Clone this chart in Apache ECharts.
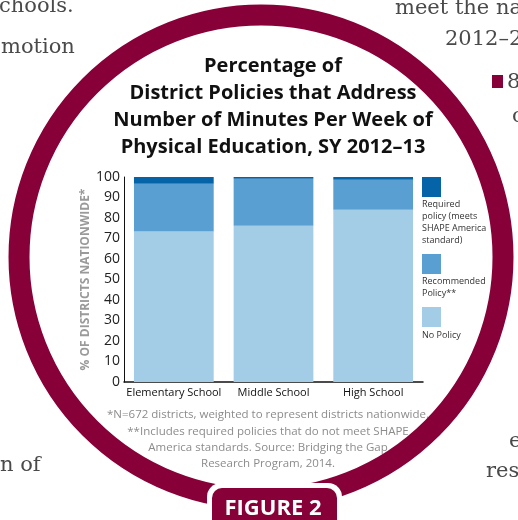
<!DOCTYPE html>
<html>
<head>
<meta charset="utf-8">
<script src="https://cdn.jsdelivr.net/npm/echarts@6/dist/echarts.min.js"></script>
<style>html,body{margin:0;padding:0;background:#fff;}#c{width:518px;height:520px;}</style>
</head>
<body>
<div id="c"></div>
<script>
const categories = ['Elementary School', 'Middle School', 'High School'];
const noPolicy = [73.4, 76.2, 84.0];
const recommended = [23.3, 23.0, 14.7];
const required = [3.3, 0.8, 1.3];
const yTicks = [0, 10, 20, 30, 40, 50, 60, 70, 80, 90, 100];
const seriesNames = ['Required policy (meets SHAPE America standard)', 'Recommended Policy**', 'No Policy'];
const colors = { required: '#0563a7', recommended: '#5a9fd2', noPolicy: '#a3cde6' };
const maroon = '#870038';
const sans = 'Open Sans';
const serif = 'DejaVu Serif';

const chart = echarts.init(document.getElementById('c'), null, { renderer: 'canvas' });

function legendBox(name, top) {
  return {
    data: [name], left: 422, top: top, orient: 'vertical', icon: 'rect',
    itemWidth: 19, itemHeight: 20, padding: 0, formatter: function () { return ''; },
    textStyle: { fontSize: 1 }, selectedMode: false
  };
}

const outerText = (text, x, y) => ({
  type: 'text', x: x, y: y, z: 1,
  style: { text: text, font: '300 21px "' + serif + '"', fill: '#4a4a4a', verticalAlign: 'middle', align: 'left' }
});

chart.setOption({
  animation: false,
  backgroundColor: '#fff',
  title: {
    text: 'Percentage of\nDistrict Policies that Address\nNumber of Minutes Per Week of\nPhysical Education, SY 2012–13',
    left: 268, top: 48, textAlign: 'center',
    textStyle: { fontFamily: sans, fontSize: 20, fontWeight: 'bold', lineHeight: 27, color: '#111' }
  },
  legend: [
    legendBox(seriesNames[0], 177),
    legendBox(seriesNames[1], 254),
    legendBox(seriesNames[2], 307)
  ],
  grid: { left: 124, right: 95, top: 177, bottom: 138 },
  xAxis: {
    type: 'category', data: categories,
    axisLine: { lineStyle: { color: '#111', width: 1.5 } },
    axisTick: { show: false },
    axisLabel: { interval: 0, fontFamily: sans, fontSize: 11, color: '#111', margin: 5 }
  },
  yAxis: {
    type: 'value', min: 0, max: 100, interval: 10,
    name: '% OF DISTRICTS NATIONWIDE*', nameLocation: 'middle', nameGap: 32, nameRotate: 90,
    nameMoveOverlap: false,
    nameTextStyle: { fontFamily: sans, fontSize: 12, fontWeight: 'bold', color: '#9a9a9a' },
    axisLine: { show: true, lineStyle: { color: '#111', width: 1 } },
    axisTick: { show: false },
    splitLine: { show: false },
    axisLabel: {
      fontFamily: sans, fontSize: 14, color: '#222', margin: 4,
      formatter: function (v) { return yTicks.indexOf(v) >= 0 ? String(v) : ''; }
    }
  },
  series: [
    { name: seriesNames[2], type: 'bar', stack: 'all', data: noPolicy, barCategoryGap: '20%', itemStyle: { color: colors.noPolicy } },
    { name: seriesNames[1], type: 'bar', stack: 'all', data: recommended, itemStyle: { color: colors.recommended } },
    { name: seriesNames[0], type: 'bar', stack: 'all', data: required, itemStyle: { color: colors.required } }
  ],
  graphic: [
    { type: 'circle', z: 0, shape: { cx: 261, cy: 257, r: 242 }, style: { fill: 'none', stroke: maroon, lineWidth: 21 } },
    { type: 'rect', z: 2, shape: { x: 207, y: 483, width: 135, height: 50, r: 14 }, style: { fill: '#fff' } },
    { type: 'rect', z: 3, shape: { x: 212, y: 488, width: 125, height: 45, r: 10 }, style: { fill: maroon } },
    { type: 'text', z: 4, x: 273, y: 509, style: { text: 'FIGURE 2', font: 'bold 22px "' + sans + '"', fill: '#fff', align: 'center', verticalAlign: 'middle' } },
    { type: 'text', z: 4, x: 422, y: 198, style: { text: 'Required\npolicy (meets\nSHAPE America\nstandard)', font: '9px "' + sans + '"', fill: '#333', lineHeight: 12 } },
    { type: 'text', z: 4, x: 422, y: 275, style: { text: 'Recommended\nPolicy**', font: '9px "' + sans + '"', fill: '#333', lineHeight: 12 } },
    { type: 'text', z: 4, x: 422, y: 329, style: { text: 'No Policy', font: '9px "' + sans + '"', fill: '#333', lineHeight: 12 } },
    { type: 'text', z: 4, x: 268, y: 407, style: { text: '*N=672 districts, weighted to represent districts nationwide.\n**Includes required policies that do not meet SHAPE\nAmerica standards. Source: Bridging the Gap\nResearch Program, 2014.', font: '11.5px "' + sans + '"', fill: '#8c8c8c', lineHeight: 16.3, align: 'center' } },
    outerText('chools.', -1, 7),
    outerText('motion', 1, 48),
    outerText('n of', 0, 466),
    outerText('meet the na', 395, 9),
    outerText('2012–20', 445, 40),
    outerText('e', 509, 442),
    outerText('res', 486, 472),
    outerText('c', 512, 117),
    { type: 'rect', z: 1, shape: { x: 492, y: 75, width: 11, height: 13 }, style: { fill: maroon } },
    outerText('8', 507, 83)
  ]
});
</script>
</body>
</html>
